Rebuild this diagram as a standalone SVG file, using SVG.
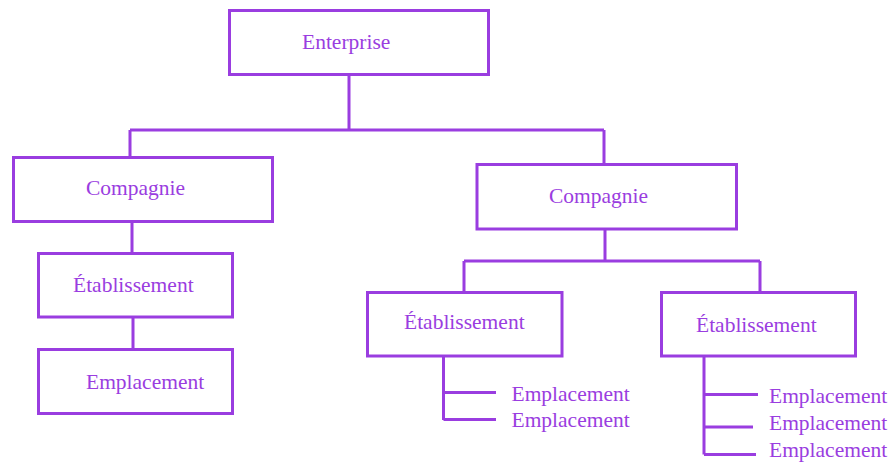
<svg xmlns="http://www.w3.org/2000/svg" width="894" height="466" viewBox="0 0 894 466">
<style>
.box{fill:#ffffff;stroke:#9a3de0;stroke-width:3}
.ln{fill:none;stroke:#9a3de0;stroke-width:3}
.t{font-family:"Liberation Serif","Times New Roman",serif;font-size:21.5px;fill:#9a3de0}
</style>
<rect width="894" height="466" fill="#ffffff"/>
<g id="connectors">
<path class="ln" d="M349 75V130M130 130H604M130 130V157M604 130V164"/>
<path class="ln" d="M132 221V253M133 317V349"/>
<path class="ln" d="M605 229V261M464 261H760M464 261V292M760 261V292"/>
<path class="ln" d="M443.5 356V420M443.5 392.5H496M443.5 419.5H496"/>
<path class="ln" d="M704 356V454.5M704 394.5H758M704 427H753M704 454.5H756"/>
</g>
<g id="enterprise">
<rect class="box" x="229.5" y="10.5" width="259" height="64"/>
<text class="t" x="302" y="49">Enterprise</text>
</g>
<g id="compagnie-left">
<rect class="box" x="13.5" y="157.5" width="259" height="64"/>
<text class="t" x="86" y="195">Compagnie</text>
</g>
<g id="compagnie-right">
<rect class="box" x="477" y="164.5" width="259.5" height="64.5"/>
<text class="t" x="549" y="203">Compagnie</text>
</g>
<g id="etablissement-left">
<rect class="box" x="38.5" y="253.5" width="194" height="63.5"/>
<text class="t" x="73" y="292">Établissement</text>
</g>
<g id="emplacement-left">
<rect class="box" x="38.5" y="349.5" width="194" height="64"/>
<text class="t" x="86" y="389">Emplacement</text>
</g>
<g id="etablissement-mid">
<rect class="box" x="367.5" y="292.5" width="194.5" height="63.5"/>
<text class="t" x="404" y="329">Établissement</text>
</g>
<g id="etablissement-right">
<rect class="box" x="661.5" y="292.5" width="194" height="63.5"/>
<text class="t" x="696" y="332">Établissement</text>
</g>
<g id="emplacements-mid">
<text class="t" x="511.5" y="401">Emplacement</text>
<text class="t" x="511.5" y="427">Emplacement</text>
</g>
<g id="emplacements-right">
<text class="t" x="769" y="403">Emplacement</text>
<text class="t" x="769" y="430">Emplacement</text>
<text class="t" x="769" y="457">Emplacement</text>
</g>
</svg>
